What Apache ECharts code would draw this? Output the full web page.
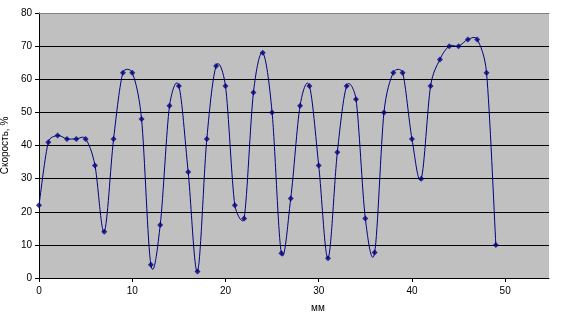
<!DOCTYPE html>
<html>
<head>
<meta charset="utf-8">
<script src="https://cdn.jsdelivr.net/npm/echarts@6/dist/echarts.min.js"></script>
<style>
html, body { margin: 0; padding: 0; background: #fff; }
#chart { width: 580px; height: 319px; }
</style>
</head>
<body>
<div id="chart"></div>
<script>
// положение, мм
var mmValues = [0, 1, 2, 3, 4, 5, 6, 7, 8, 9, 10, 11, 12, 13, 14, 15, 16, 17, 18, 19,
	20, 21, 22, 23, 24, 25, 26, 27, 28, 29, 30, 31, 32, 33, 34, 35, 36, 37, 38, 39,
	40, 41, 42, 43, 44, 45, 46, 47, 48, 49];
// скорость, %
var speedValues = [22, 41, 43, 42, 42, 42, 34, 14, 42, 62, 62, 48, 4, 16, 52, 58, 32, 2, 42, 64,
	58, 22, 18, 56, 68, 50, 7.5, 24, 52, 58, 34, 6, 38, 58, 54, 18, 7.7, 50, 62, 62,
	42, 30, 58, 66, 70, 70, 72, 72, 62, 10];

var points = [];
for (var i = 0; i < mmValues.length; i++) {
	points.push([mmValues[i], speedValues[i]]);
}

var chart = echarts.init(document.getElementById('chart'));
var font = 'Liberation Sans, Arial, sans-serif';

function dist(a, b) {
	return Math.sqrt((a[0] - b[0]) * (a[0] - b[0]) + (a[1] - b[1]) * (a[1] - b[1]));
}

// сглаживание как в Excel: Безье, f = 1/6 с ограничением по длине отрезка
function renderSegment(params, api) {
	var n = points.length;
	var i = params.dataIndex;
	if (i >= n - 1) return null;
	var p0 = api.coord(points[Math.max(i - 1, 0)]);
	var p1 = api.coord(points[i]);
	var p2 = api.coord(points[i + 1]);
	var p3 = api.coord(points[Math.min(i + 2, n - 1)]);

	var d02 = dist(p0, p2), d12 = dist(p1, p2);
	var f1 = d02 > 0 ? Math.min(1 / 6, 0.5 * d12 / d02) : 0;
	var d13 = dist(p1, p3);
	var f2 = d13 > 0 ? Math.min(1 / 6, 0.5 * d12 / d13) : 0;

	return {
		type: 'bezierCurve',
		shape: {
			x1: p1[0], y1: p1[1],
			cpx1: p1[0] + f1 * (p2[0] - p0[0]),
			cpy1: p1[1] + f1 * (p2[1] - p0[1]),
			cpx2: p2[0] - f2 * (p3[0] - p1[0]),
			cpy2: p2[1] - f2 * (p3[1] - p1[1]),
			x2: p2[0], y2: p2[1]
		},
		style: { stroke: '#000080', fill: null, lineWidth: 1 },
		silent: true
	};
}

chart.setOption({
	backgroundColor: '#fff',
	animation: false,
	grid: {
		left: 39,
		top: 13,
		width: 510,
		height: 265,
		outerBoundsMode: 'none',
		containLabel: false,
		show: true,
		backgroundColor: '#c0c0c0',
		borderWidth: 0
	},
	xAxis: [{
		type: 'value',
		min: 0,
		max: 54.7,
		interval: 10,
		axisLine: { onZero: false, lineStyle: { color: '#000', width: 1 } },
		axisTick: { show: true, inside: false, length: 4, lineStyle: { color: '#000' } },
		axisLabel: { color: '#000', fontFamily: font, fontSize: 10, margin: 8, showMaxLabel: false },
		splitLine: { show: false }
	}, {
		// верхняя рамка области построения
		type: 'value',
		position: 'top',
		min: 0,
		max: 54.7,
		axisLine: { show: true, onZero: false, lineStyle: { color: '#808080', width: 1 } },
		axisTick: { show: false },
		axisLabel: { show: false },
		splitLine: { show: false }
	}],
	yAxis: {
		type: 'value',
		min: 0,
		max: 80,
		interval: 10,
		name: 'Скорость, %',
		nameLocation: 'middle',
		nameGap: 22,
		nameTextStyle: { color: '#000', fontFamily: font, fontSize: 10 },
		axisLine: { show: true, lineStyle: { color: '#000', width: 1 } },
		axisTick: { show: true, inside: false, length: 4, lineStyle: { color: '#000' } },
		axisLabel: { color: '#000', fontFamily: font, fontSize: 10, margin: 7 },
		splitLine: { show: true, lineStyle: { color: '#000', width: 1 } }
	},
	graphic: [{
		type: 'text',
		left: 311,
		top: 303,
		style: { text: 'мм', fill: '#000', font: '10px ' + font }
	}],
	series: [{
		type: 'custom',
		data: points,
		renderItem: renderSegment,
		clip: true,
		z: 2
	}, {
		type: 'scatter',
		data: points,
		symbol: 'diamond',
		symbolSize: 6,
		itemStyle: { color: '#000080' },
		z: 3
	}]
});
</script>
</body>
</html>
